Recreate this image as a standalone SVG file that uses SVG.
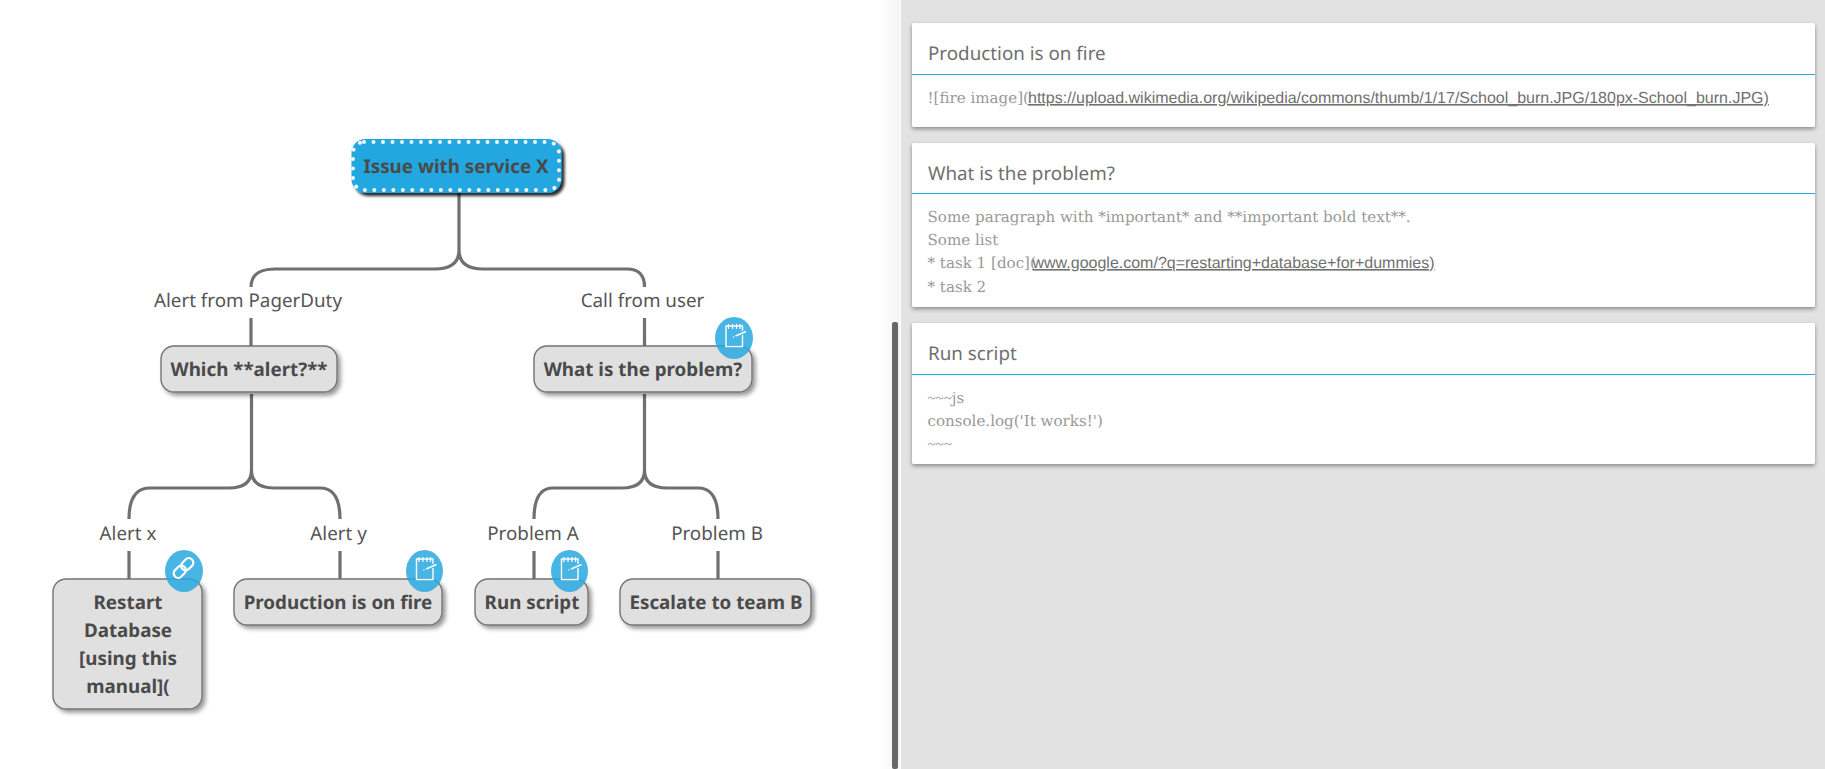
<svg xmlns="http://www.w3.org/2000/svg" xmlns:xlink="http://www.w3.org/1999/xlink" width="1825" height="769" viewBox="0 0 1825 769">
<style>
text{text-rendering:geometricPrecision}
.c{fill:none;stroke:#707070;stroke-width:3.2}
.n{fill:#e0e0e0;stroke:#747474;stroke-width:1.4;filter:url(#s)}
.t{font:bold 18.8px "Noto Sans",sans-serif;fill:#4a4a4a;text-anchor:middle}
.l{font:18.8px "Noto Sans",sans-serif;fill:#555;text-anchor:middle}
.card{fill:#fff;filter:url(#cs)}
.h{font:18.8px "Noto Sans",sans-serif;fill:#6f6f6f}
.b{font:15.1px "DejaVu Serif",serif;fill:#999}
.tl{font:15px "Liberation Serif",serif;fill:#999}
.a{font:16px "Liberation Sans",sans-serif;fill:#707070;text-decoration:underline}
.sep{stroke:#2aa7e0;stroke-width:1}
.i{fill:#29a8e0;fill-opacity:.85}
</style>
<defs>
<filter id="s" x="-20%" y="-20%" width="140%" height="150%"><feDropShadow dx="3" dy="3" stdDeviation="2" flood-color="#000" flood-opacity=".4"/></filter>
<filter id="rs" x="-20%" y="-20%" width="140%" height="150%"><feDropShadow dx="3" dy="3" stdDeviation="1.500" flood-color="#000" flood-opacity=".85"/></filter>
<filter id="cs" x="-2%" y="-10%" width="104%" height="125%"><feDropShadow dx="0" dy="2" stdDeviation="2" flood-color="#000" flood-opacity=".4"/></filter>
<linearGradient id="fade" x1="0" x2="1" y1="0" y2="0"><stop offset="0" stop-color="#fff"/><stop offset="1" stop-color="#ececec"/></linearGradient>
<g id="note"><rect x="-8" y="-12" width="16.500" height="20.500" fill="none" stroke="#fff" stroke-width="1.400"/><path d="M-5.500 -14V-9M-1.500 -14V-9M2.500 -14V-9M6 -14V-9" stroke="#fff" stroke-width="1.200"/><path d="M-1 -1L12 -6.500" stroke="#44b4e4" stroke-width="4"/><path d="M1.500 -2L12 -6.500M-1 -1L0 -1.400" stroke="#fff" stroke-width="1.400"/></g>
<g id="link"><g transform="rotate(-45)"><rect x="-12" y="-4.500" width="13.500" height="9" rx="4.500" fill="none" stroke="#fff" stroke-width="2.200"/><rect x="-1.500" y="-4.500" width="13.500" height="9" rx="4.500" fill="none" stroke="#fff" stroke-width="2.200"/></g></g>
</defs>
<rect width="1825" height="769" fill="#fff"/>
<rect x="880" width="20" height="769" fill="url(#fade)" opacity=".6"/>
<rect id="panel" x="901" width="924" height="769" fill="#e2e2e2"/>
<rect id="scrollbar" x="892" y="322" width="6" height="447" rx="2" fill="#686868"/>
<g id="connectors">
<path class="c" d="M459 193V250Q459 269 435 269H275Q251 269 251 287M459 250Q459 269 483 269H627Q644.500 269 644.500 287"/>
<path class="c" d="M251 318V346M644.500 318V346"/>
<path class="c" d="M251.500 394V470Q251.500 488 229 488H150Q129 488 129 519M251.500 470Q251.500 488 274 488H320Q340 488 340 519"/>
<path class="c" d="M644.500 394V470Q644.500 488 622 488H553Q534 488 534 519M644.500 470Q644.500 488 667 488H698Q718 488 718 519"/>
<path class="c" d="M129 551V579M340 551V579M534 551V579M718 551V579"/>
</g>
<text class="l" x="248" y="307">Alert from PagerDuty</text>
<text class="l" x="642.500" y="307">Call from user</text>
<text class="l" x="128" y="540">Alert x</text>
<text class="l" x="338.500" y="540">Alert y</text>
<text class="l" x="533" y="540">Problem A</text>
<text class="l" x="717" y="540">Problem B</text>
<g id="node-root"><rect x="351.500" y="139" width="210" height="54" rx="14" fill="#22a7e0" filter="url(#rs)"/><rect x="353" y="142" width="206" height="48" rx="11" fill="none" stroke="#f2f8fb" stroke-width="4" stroke-linecap="round" stroke-dasharray="0.010 9.490"/><text class="t" x="456" y="173">Issue with service X</text></g>
<g id="node-which"><rect class="n" x="161" y="346" width="176" height="46" rx="13"/><text class="t" x="249" y="376">Which **alert?**</text></g>
<g id="node-what"><rect class="n" x="534" y="346" width="218" height="46" rx="13"/><text class="t" x="643" y="376">What is the problem?</text><ellipse class="i" cx="734" cy="338" rx="19" ry="21"/><use xlink:href="#note" x="734" y="338"/></g>
<g id="node-restart"><rect class="n" x="53" y="579" width="149" height="130" rx="13"/><text class="t" x="128" y="609">Restart</text><text class="t" x="128" y="637">Database</text><text class="t" x="128" y="665">[using this</text><text class="t" x="128" y="693">manual](</text><ellipse class="i" cx="184" cy="571" rx="19" ry="21"/><use xlink:href="#link" x="183.500" y="568"/></g>
<g id="node-fire"><rect class="n" x="234" y="579" width="208" height="46" rx="13"/><text class="t" x="338" y="609">Production is on fire</text><ellipse class="i" cx="424.500" cy="571" rx="18.500" ry="21"/><use xlink:href="#note" x="424.500" y="571"/></g>
<g id="node-run"><rect class="n" x="475" y="579" width="113" height="46" rx="13"/><text class="t" x="532" y="609">Run script</text><ellipse class="i" cx="569.500" cy="571" rx="18.500" ry="21"/><use xlink:href="#note" x="569.500" y="571"/></g>
<g id="node-esc"><rect class="n" x="620" y="579" width="191" height="46" rx="13"/><text class="t" x="716" y="609">Escalate to team B</text></g>
<g id="card-fire"><rect class="card" x="912" y="23" width="903" height="104" rx="2"/><text class="h" x="928" y="60">Production is on fire</text><line class="sep" x1="912" x2="1815" y1="74.500" y2="74.500"/><text y="103"><tspan class="b" x="927.500">![fire image](</tspan><tspan class="a" x="1028">https://upload.wikimedia.org/wikipedia/commons/thumb/1/17/School_burn.JPG/180px-School_burn.JPG)</tspan></text></g>
<g id="card-what"><rect class="card" x="912" y="143" width="903" height="164" rx="2"/><text class="h" x="928" y="180">What is the problem?</text><line class="sep" x1="912" x2="1815" y1="193.500" y2="193.500"/><text class="b" x="927.500" y="222">Some paragraph with *important* and **important bold text**.</text><text class="b" x="927.500" y="245">Some list</text><text y="268"><tspan class="b" x="927.500">* task 1 [doc](</tspan><tspan class="a" x="1032.500">www.google.com/?q=restarting+database+for+dummies)</tspan></text><text class="b" x="927.500" y="292">* task 2</text></g>
<g id="card-run"><rect class="card" x="912" y="323" width="903" height="141" rx="2"/><text class="h" x="928" y="360">Run script</text><line class="sep" x1="912" x2="1815" y1="374.500" y2="374.500"/><text x="927.500" y="403"><tspan class="tl">~~~</tspan><tspan class="b">js</tspan></text><text class="b" x="927.500" y="426">console.log('It works!')</text><text class="tl" x="927.500" y="449">~~~</text></g>
</svg>
